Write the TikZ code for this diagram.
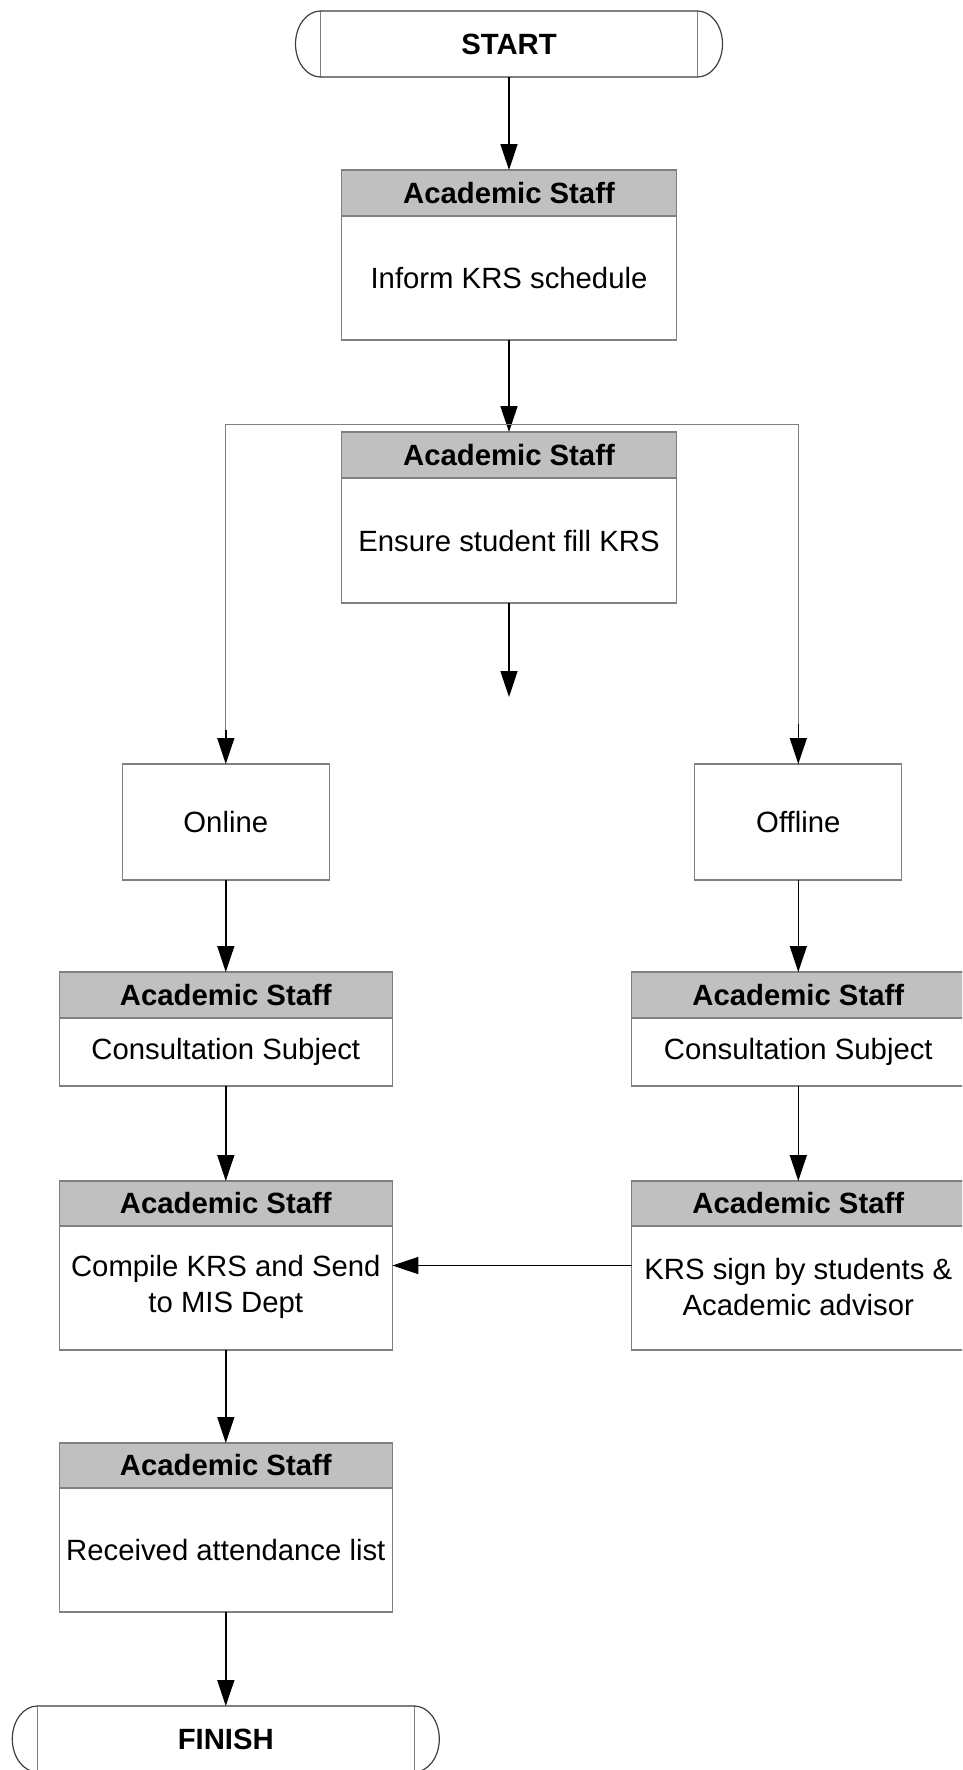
\documentclass[tikz,border=0pt]{standalone}
\usepackage{fontspec}
\setmainfont{Liberation Sans}
\usetikzlibrary{arrows.meta}
\definecolor{bordergray}{HTML}{808080}
\definecolor{hdrgray}{HTML}{C0C0C0}
\newcommand\mydiafont{\fontsize{29.3}{36}\selectfont}
\tikzset{
  frame/.style={draw=bordergray,line width=1.3pt,inner sep=0pt,outer sep=0pt,rectangle},
  hdr/.style={frame,fill=hdrgray,minimum height=46pt,anchor=north,font=\mydiafont\bfseries},
  txt/.style={align=center,inner sep=0pt,font=\mydiafont},
  arr/.style={-{Triangle[length=26pt,width=17pt]},line width=1.5pt,black},
  link/.style={draw=bordergray,line width=1.3pt},
  endarc/.style={draw=black!75,line width=1.2pt},
  term/.style={frame,minimum width=377pt,minimum height=66pt,font=\mydiafont\bfseries},
}
\begin{document}
\begin{tikzpicture}[x=1pt,y=-1pt,font=\mydiafont]
\useasboundingbox (0,0) rectangle (962,1770);
\clip (0,0) rectangle (962,1770);
\fill[white] (0,0) rectangle (962,1770);

% START
\node[term] (start) at (509,44) {START};
\draw[endarc] (start.north west) arc[start angle=90,end angle=270,x radius=25pt,y radius=33pt];
\draw[endarc] (start.north east) arc[start angle=90,end angle=-90,x radius=25pt,y radius=33pt];

% Box 1
\node[frame,minimum width=335pt,minimum height=170pt] (b1) at (509,255) {};
\node[hdr,minimum width=335pt] (b1h) at (b1.north) {Academic Staff};
\node[txt] (b1t) at (509,278) {Inform KRS schedule};

% Box 2
\node[frame,minimum width=335pt,minimum height=171pt] (b2) at (509,517.5) {};
\node[hdr,minimum width=335pt] (b2h) at (b2.north) {Academic Staff};
\node[txt] (b2t) at (509,541) {Ensure student fill KRS};

% Online / Offline
\node[frame,minimum width=207pt,minimum height=116pt] (on) at (225.8,822) {Online};
\node[frame,minimum width=207pt,minimum height=116pt] (off) at (798.3,822) {Offline};

% Row 3
\node[frame,minimum width=333pt,minimum height=114pt] (l3) at (225.8,1029) {};
\node[hdr,minimum width=333pt] (l3h) at (l3.north) {Academic Staff};
\node[txt] (l3t) at (225.8,1052) {Consultation Subject};
\node[frame,minimum width=333pt,minimum height=114pt] (r3) at (798.3,1029) {};
\node[hdr,minimum width=333pt] (r3h) at (r3.north) {Academic Staff};
\node[txt] (r3t) at (798.3,1052) {Consultation Subject};

% Row 4
\node[frame,minimum width=333pt,minimum height=169pt] (l4) at (225.8,1265.5) {};
\node[hdr,minimum width=333pt,minimum height=45pt] (l4h) at (l4.north) {Academic Staff};
\node[txt] (l4t) at (225.8,1287) {Compile KRS and Send\\to MIS Dept};
\node[frame,minimum width=333pt,minimum height=169pt] (r4) at (798.3,1265.5) {};
\node[hdr,minimum width=333pt,minimum height=45pt] (r4h) at (r4.north) {Academic Staff};
\node[txt] (r4t) at (798.3,1287) {KRS sign by students \&\\Academic advisor};

% Row 5
\node[frame,minimum width=333pt,minimum height=169pt] (l5) at (225.8,1527.5) {};
\node[hdr,minimum width=333pt,minimum height=45pt] (l5h) at (l5.north) {Academic Staff};
\node[txt] (l5t) at (225.8,1550) {Received attendance list};

% FINISH
\node[term] (finish) at (225.8,1739) {FINISH};
\draw[endarc] (finish.north west) arc[start angle=90,end angle=270,x radius=25pt,y radius=33pt];
\draw[endarc] (finish.north east) arc[start angle=90,end angle=-90,x radius=25pt,y radius=33pt];

% Connectors
\draw[arr] (start) -- (b1);
\draw[arr] (b1) -- (b2);
\coordinate (br) at (509,424.5);
\coordinate (lk) at (225.8,730);
\coordinate (rk) at (798.3,724);
\draw[link] (lk) |- (br) -| (rk);
\draw[arr] (lk) -- (on);
\draw[arr] (rk) -- (off);
\coordinate (midend) at (509,697);
\draw[arr] (b2) -- (midend);
\draw[arr] (on) -- (l3);
\draw[arr] (off) -- (r3);
\draw[arr] (l3) -- (l4);
\draw[arr] (r3) -- (r4);
\draw[arr] (r4) -- (l4);
\draw[arr] (l4) -- (l5);
\draw[arr] (l5) -- (finish);
\end{tikzpicture}
\end{document}
